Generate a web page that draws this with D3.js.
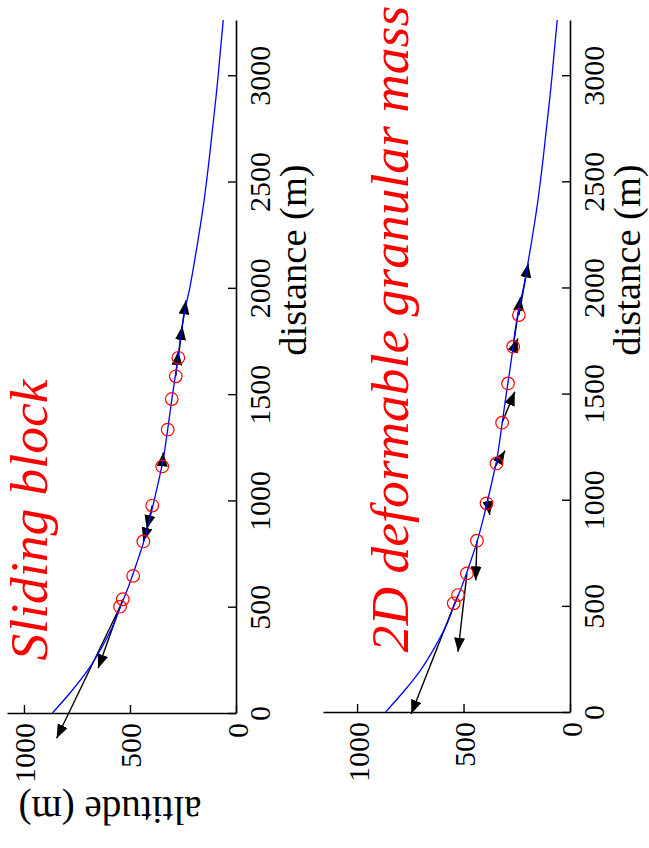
<!DOCTYPE html>
<html>
<head>
<meta charset="utf-8">
<script src="https://cdn.jsdelivr.net/npm/d3@7"></script>
<style>
  html, body { margin: 0; padding: 0; background: #fff; }
  svg { display: block; }
</style>
</head>
<body>
<svg id="fig" width="649" height="848"></svg>
<script>
// Terrain profile along the runout path (distance, altitude in metres)
const profileDistance = [0, 100, 200, 300, 400, 500, 600, 700, 800, 900, 1000, 1100, 1200, 1300, 1400, 1500,
  1600, 1700, 1800, 1900, 2000, 2100, 2200, 2300, 2400, 2500, 2600, 2700, 2800, 2900, 3000, 3100, 3260];
const profileAltitude = [866, 778, 700, 638, 585, 545, 505, 470, 437, 410, 386, 363, 342, 327, 313, 299,
  284, 270, 257, 240, 218, 200, 183, 167, 152, 139, 127, 116, 105, 94, 84, 75, 60];

// Observed positions (red circles)
const blockDistance = [500, 535, 645, 807, 976, 1160, 1333, 1477, 1584, 1671];
const blockAltitude = [547, 534, 485, 437, 395, 348, 322, 303, 284, 272];
const massDistance = [512, 551, 653, 807, 983, 1171, 1363, 1548, 1721, 1870];
const massAltitude = [546, 526, 484, 437, 392, 345, 319, 291, 267, 240];

// Computed displacement vectors: start (distance, altitude) -> end (distance, altitude)
const blockArrowFromD = [535, 500, 976, 864, 1160, 1584, 1671, 1760];
const blockArrowFromA = [534, 547, 395, 421, 348, 284, 272, 262];
const blockArrowToD   = [210, -119, 865, 807, 1226, 1702, 1820, 1941];
const blockArrowToA   = [650, 846, 421, 437, 343, 272, 253, 236];

const massArrowFromD = [551, 653, 807, 1010, 1150, 1363, 1700, 1721, 1870];
const massArrowFromA = [526, 484, 437, 388, 355, 319, 268, 267, 240];
const massArrowToD   = [-9, 284, 620, 928, 1231, 1509, 1760, 1956, 2113];
const massArrowToA   = [746, 526, 443, 377, 305, 259, 245, 232, 196];

const distanceTicks = [0, 500, 1000, 1500, 2000, 2500, 3000];
const altitudeTicks = [0, 500, 1000];

const SERIF = "Liberation Serif";

const panels = [
  { title: "Sliding block", cD: blockDistance, cA: blockAltitude,
    aFD: blockArrowFromD, aFA: blockArrowFromA, aTD: blockArrowToD, aTA: blockArrowToA,
    axisX: 236, x0: 7, altMax: 1080, yBottom: 713, yTop: 20,
    titleX: 47, titleY: 520, showAltLabel: true },
  { title: "2D deformable granular mass", cD: massDistance, cA: massAltitude,
    aFD: massArrowFromD, aFA: massArrowFromA, aTD: massArrowToD, aTA: massArrowToA,
    axisX: 570, x0: 323, altMax: 1160, yBottom: 712, yTop: 20,
    titleX: 408, titleY: 329, showAltLabel: false }
];

const svg = d3.select("#fig");

svg.append("defs").append("marker")
  .attr("id", "head")
  .attr("markerUnits", "userSpaceOnUse")
  .attr("viewBox", "0 0 14 11")
  .attr("markerWidth", 14).attr("markerHeight", 11)
  .attr("refX", 14).attr("refY", 5.5)
  .attr("orient", "auto")
  .append("path").attr("d", "M0,0 L14,5.5 L0,11 Z").attr("fill", "#000");

panels.forEach(p => {
  const g = svg.append("g").attr("font-family", SERIF);
  // distance runs up the page, altitude runs leftwards
  const y = d3.scaleLinear().domain([0, 3260]).range([p.yBottom, p.yTop]);
  const x = d3.scaleLinear().domain([0, p.altMax]).range([p.axisX, p.x0]);

  // distance axis
  const yAxis = g.append("g").attr("transform", `translate(${p.axisX},0)`)
    .call(d3.axisRight(y).tickValues(distanceTicks).tickSizeInner(-8).tickSizeOuter(0).tickFormat(d3.format("d")));
  yAxis.attr("font-family", SERIF).attr("font-size", 30);
  yAxis.select(".domain").attr("stroke", "#000").attr("stroke-width", 1.6);
  yAxis.selectAll(".tick line").attr("stroke", "#000").attr("stroke-width", 1.4);
  yAxis.selectAll(".tick text")
    .attr("x", null).attr("dy", null)
    .attr("transform", "translate(34,0) rotate(-90)")
    .attr("text-anchor", "middle")
    .attr("font-family", SERIF).attr("font-size", 30).attr("fill", "#000");

  // altitude axis
  const xAxis = g.append("g").attr("transform", `translate(0,${p.yBottom})`)
    .call(d3.axisBottom(x).tickValues(altitudeTicks).tickSizeInner(-8).tickSizeOuter(0).tickFormat(d3.format("d")));
  xAxis.attr("font-family", SERIF).attr("font-size", 30);
  xAxis.select(".domain").attr("stroke", "#000").attr("stroke-width", 1.6);
  xAxis.selectAll(".tick line").attr("stroke", "#000").attr("stroke-width", 1.4);
  xAxis.selectAll(".tick text")
    .attr("y", null).attr("dy", null)
    .attr("transform", "translate(11,10) rotate(-90)")
    .attr("text-anchor", "end")
    .attr("font-family", SERIF).attr("font-size", 30).attr("fill", "#000");

  // axis titles
  g.append("text")
    .attr("transform", `translate(${p.axisX + 70},260) rotate(-90)`)
    .attr("text-anchor", "middle").attr("font-family", SERIF).attr("font-size", 38.5).attr("fill", "#000")
    .text("distance (m)");
  if (p.showAltLabel) {
    g.append("text")
      .attr("transform", "translate(110,797) rotate(180)")
      .attr("text-anchor", "middle").attr("font-family", SERIF).attr("font-size", 39).attr("fill", "#000")
      .text("altitude (m)");
  }

  // displacement arrows
  g.append("g").selectAll("line").data(d3.range(p.aFD.length)).join("line")
    .attr("x1", i => x(p.aFA[i])).attr("y1", i => y(p.aFD[i]))
    .attr("x2", i => x(p.aTA[i])).attr("y2", i => y(p.aTD[i]))
    .attr("stroke", "#000").attr("stroke-width", 1.4)
    .attr("marker-end", "url(#head)");

  // terrain profile
  const line = d3.line()
    .x(i => x(profileAltitude[i]))
    .y(i => y(profileDistance[i]))
    .curve(d3.curveMonotoneY);
  g.append("path").attr("d", line(d3.range(profileDistance.length)))
    .attr("fill", "none").attr("stroke", "#0000ff").attr("stroke-width", 1.3);

  // observed positions
  g.append("g").selectAll("circle").data(d3.range(p.cD.length)).join("circle")
    .attr("cx", i => x(p.cA[i])).attr("cy", i => y(p.cD[i]))
    .attr("r", 6.3).attr("fill", "none").attr("stroke", "#ff0000").attr("stroke-width", 1.2);

  // panel title
  g.append("text")
    .attr("transform", `translate(${p.titleX},${p.titleY}) rotate(-90)`)
    .attr("text-anchor", "middle").attr("font-family", SERIF).attr("font-size", 53.5).attr("font-style", "italic")
    .attr("fill", "#ff0000")
    .text(p.title);
});
</script>
</body>
</html>
